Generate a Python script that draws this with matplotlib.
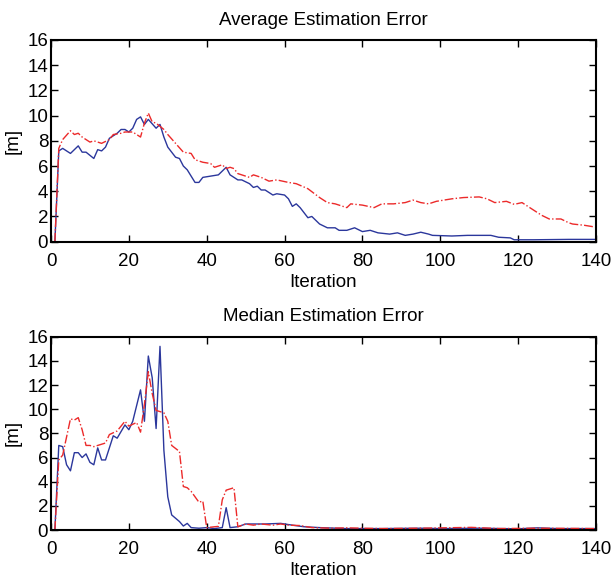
import matplotlib
matplotlib.use('Agg')
import matplotlib.pyplot as plt

plt.rcParams['font.family'] = ['Liberation Sans', 'DejaVu Sans']

# average estimation error (top panel)
avg_blue_x = [1, 2, 3, 4, 5, 7, 8, 9, 11, 12, 13, 14, 15, 17, 18, 19, 20, 21, 22, 23, 24, 25,
              27, 28, 29, 30, 32, 33, 34, 35, 37, 38, 39, 41, 43, 45, 46, 48, 49, 51, 52, 53,
              54, 55, 57, 58, 60, 61, 62, 63, 64, 66, 67, 69, 71, 73, 74, 76, 78, 80, 82, 84,
              87, 89, 91, 93, 95, 97, 98, 103, 107, 113, 115, 118, 119, 124, 133, 140]
avg_blue_y = [0.0, 7.2, 7.4, 7.2, 7.0, 7.6, 7.1, 7.1, 6.6, 7.3, 7.2, 7.5, 8.2, 8.6, 8.9, 8.9,
              8.7, 9.0, 9.7, 9.9, 9.3, 9.7, 9.0, 9.3, 8.3, 7.5, 6.7, 6.6, 6.0, 5.7, 4.7, 4.7,
              5.1, 5.2, 5.3, 5.9, 5.3, 4.9, 4.9, 4.6, 4.3, 4.4, 4.1, 4.1, 3.7, 3.8, 3.7, 3.4,
              2.8, 3.0, 2.7, 1.9, 2.0, 1.4, 1.1, 1.1, 0.9, 0.9, 1.1, 0.8, 0.9, 0.7, 0.6, 0.7,
              0.5, 0.6, 0.75, 0.6, 0.5, 0.45, 0.5, 0.5, 0.35, 0.3, 0.15, 0.15, 0.18, 0.18]

avg_red_x = [1, 2, 3, 5, 6, 7, 8, 10, 11, 13, 15, 16, 18, 19, 21, 23, 24, 25, 26, 27, 29, 30,
             32, 34, 36, 37, 39, 41, 42, 44, 45, 46, 47, 48, 51, 52, 54, 56, 58, 61, 63, 66,
             69, 71, 73, 76, 77, 80, 83, 85, 88, 91, 93, 95, 97, 99, 103, 106, 110, 112, 114,
             117, 119, 121, 124, 126, 128, 131, 133, 134, 137, 140]
avg_red_y = [0.0, 7.4, 8.1, 8.8, 8.5, 8.6, 8.3, 7.9, 8.0, 7.8, 8.1, 8.5, 8.6, 8.7, 8.7, 8.3,
             9.4, 10.2, 9.5, 9.4, 8.9, 8.5, 7.8, 7.1, 7.0, 6.5, 6.3, 6.2, 5.9, 6.1, 5.8, 5.9,
             5.8, 5.4, 5.1, 5.3, 5.1, 4.8, 4.9, 4.7, 4.6, 4.2, 3.5, 3.1, 3.0, 2.7, 3.0, 2.9,
             2.7, 3.0, 3.0, 3.1, 3.3, 3.1, 3.0, 3.2, 3.4, 3.5, 3.55, 3.4, 3.1, 3.2, 2.96, 3.1,
             2.5, 2.1, 1.8, 1.8, 1.5, 1.4, 1.3, 1.15]

# median estimation error (bottom panel)
med_blue_x = [1, 2, 3, 4, 5, 6, 7, 8, 9, 10, 11, 12, 13, 14, 15, 16, 17, 19, 20, 21, 22, 23,
              24, 25, 26, 27, 28, 29, 30, 31, 33, 34, 35, 36, 38, 40, 42, 44, 45, 46, 48, 50,
              53, 55, 59, 61, 65, 69, 76, 85, 95, 100, 110, 120, 125, 130, 140]
med_blue_y = [0.0, 7.0, 6.9, 5.4, 4.9, 6.4, 6.4, 6.0, 6.3, 5.6, 5.4, 6.8, 5.8, 5.8, 6.8, 7.8,
              7.6, 8.7, 8.3, 9.0, 10.3, 11.6, 9.0, 14.4, 12.6, 8.4, 15.2, 6.6, 2.75, 1.25, 0.7,
              0.33, 0.55, 0.2, 0.15, 0.2, 0.12, 0.2, 1.85, 0.2, 0.27, 0.5, 0.5, 0.5, 0.55, 0.45,
              0.27, 0.2, 0.12, 0.12, 0.15, 0.12, 0.15, 0.1, 0.18, 0.12, 0.12]

med_red_x = [1, 2, 3, 4, 5, 6, 7, 8, 9, 10, 11, 12, 14, 15, 17, 19, 20, 22, 23, 24, 25, 26, 27,
             29, 30, 31, 33, 34, 35, 36, 37, 38, 39, 40, 42, 43, 44, 45, 47, 48, 50, 52, 54,
             57, 59, 61, 64, 67, 72, 76, 80, 85, 95, 108, 115, 125, 140]
med_red_y = [0.0, 5.8, 6.2, 7.7, 9.2, 9.1, 9.3, 8.3, 7.0, 7.0, 6.9, 7.0, 7.2, 7.9, 8.2, 9.0,
             8.6, 8.9, 8.1, 10.4, 13.1, 11.3, 9.9, 9.7, 9.0, 7.0, 6.5, 3.6, 3.5, 3.2, 2.75, 2.3,
             2.4, 0.2, 0.27, 0.3, 2.5, 3.3, 3.5, 0.27, 0.5, 0.4, 0.5, 0.4, 0.5, 0.4, 0.37, 0.2,
             0.15, 0.18, 0.15, 0.12, 0.15, 0.22, 0.12, 0.15, 0.12]

xticks = [0, 20, 40, 60, 80, 100, 120, 140]
yticks = [0, 2, 4, 6, 8, 10, 12, 14, 16]

fig = plt.figure(figsize=(6.13, 5.88), dpi=100)
ax1 = fig.add_axes([0.0832, 0.589, 0.889, 0.343])
ax2 = fig.add_axes([0.0832, 0.0986, 0.889, 0.3288])

panels = [
    (ax1, avg_blue_x, avg_blue_y, avg_red_x, avg_red_y, 'Average Estimation Error'),
    (ax2, med_blue_x, med_blue_y, med_red_x, med_red_y, 'Median Estimation Error'),
]

for ax, bx, by, rx, ry, title in panels:
    ax.plot(bx, by, color='#2b379c', linewidth=1.0)
    ax.plot(rx, ry, color='#ec2a2a', linewidth=1.0, linestyle='-.')
    ax.set_xlim(0, 140)
    ax.set_ylim(0, 16)
    ax.set_xticks(xticks)
    ax.set_yticks(yticks)
    ax.tick_params(direction='in', top=True, right=True, length=5, width=1,
                   labelsize=13.5, pad=2)
    ax.tick_params(axis='x', pad=8)
    for s in ax.spines.values():
        s.set_linewidth(1.5)
    ax.set_title(title, fontsize=13.5, pad=11)
    ax.set_xlabel('Iteration', fontsize=13.5, labelpad=3)
    ax.set_ylabel('[m]', fontsize=13.5, labelpad=4)

plt.savefig('out.png', dpi=100)
